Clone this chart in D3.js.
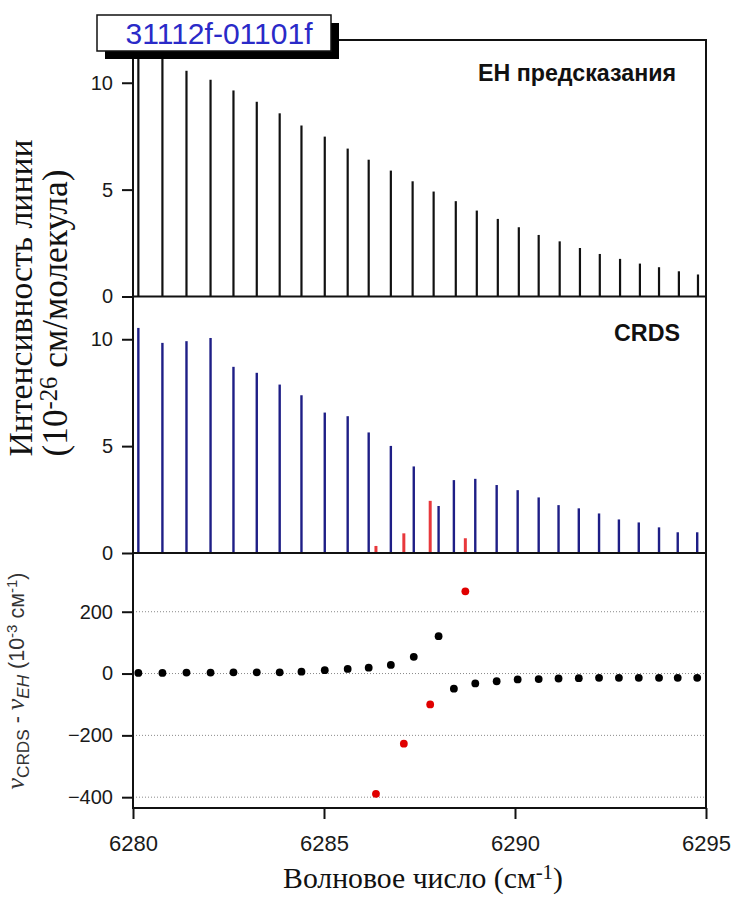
<!DOCTYPE html>
<html><head><meta charset="utf-8">
<script src="https://cdn.jsdelivr.net/npm/d3@7"></script>
<style>body{margin:0;background:#fff}</style>
</head><body><div id="chart"></div>
<script>
// ---------- data ----------
const xTicks = [6280, 6285, 6290, 6295];
const intensityTicks = [0, 5, 10];
const deltaTicks = [-400, -200, 0, 200];

const ehWavenumber = [6280.14, 6280.77, 6281.40, 6282.03, 6282.63, 6283.24, 6283.84, 6284.41, 6285.02, 6285.62,
  6286.17, 6286.75, 6287.32, 6287.87, 6288.45, 6289.00, 6289.55, 6290.10, 6290.62, 6291.17,
  6291.70, 6292.22, 6292.75, 6293.27, 6293.77, 6294.29, 6294.79];
const ehIntensity = [11.9, 11.4, 10.56, 10.14, 9.64, 9.11, 8.57, 8.00, 7.48, 6.92,
  6.40, 5.89, 5.39, 4.91, 4.46, 4.02, 3.63, 3.24, 2.88, 2.58,
  2.27, 1.99, 1.76, 1.54, 1.37, 1.18, 1.03];

const crdsWavenumber = [6280.14, 6280.77, 6281.40, 6282.03, 6282.63, 6283.24, 6283.84, 6284.41, 6285.02, 6285.62,
  6286.17, 6286.75, 6287.35, 6288.00, 6288.40, 6288.96, 6289.52, 6290.07, 6290.62, 6291.14,
  6291.67, 6292.20, 6292.72, 6293.24, 6293.77, 6294.26, 6294.77];
const crdsIntensity = [10.53, 9.83, 9.91, 10.06, 8.71, 8.43, 7.88, 7.38, 6.57, 6.40,
  5.64, 5.01, 4.05, 2.20, 3.41, 3.47, 3.18, 2.94, 2.60, 2.24,
  2.09, 1.85, 1.57, 1.43, 1.20, 0.97, 0.97];
const crdsDelta = [2, 2, 3, 3, 4, 4, 4, 6, 11, 15,
  19, 28, 54, 121, -49, -32, -25, -19, -18, -16,
  -15, -14, -14, -14, -14, -14, -14];

const perturbWavenumber = [6286.36, 6287.09, 6287.78, 6288.70];
const perturbIntensity = [0.33, 0.92, 2.44, 0.69];
const perturbDelta = [-389, -227, -100, 266];

const bandLabel = "31112f-01101f";
const topLabel = "ЕН предсказания";
const midLabel = "CRDS";

// ---------- layout ----------
const W = 734, H = 900;
const L = 133, R = 706;
const P1 = [40, 296.5], P2 = [296.5, 553], P3 = [553, 808];

const svg = d3.select("#chart").append("svg").attr("width", W).attr("height", H)
  .style("font-family", "Arial, 'Liberation Sans', sans-serif");
svg.append("rect").attr("width", W).attr("height", H).attr("fill", "#fff");

const x = d3.scaleLinear().domain([6280, 6295]).range([L, R]);
const y1 = d3.scaleLinear().domain([0, 12]).range([P1[1], P1[0]]);
const y2 = d3.scaleLinear().domain([0, 12]).range([P2[1], P2[0]]);
const y3 = d3.scaleLinear().domain([-435, 390]).range([P3[1], P3[0]]);

// grid lines (bottom panel)
svg.append("g").selectAll("line").data(deltaTicks).join("line")
  .attr("x1", L).attr("x2", R).attr("y1", d => y3(d)).attr("y2", d => y3(d))
  .attr("stroke", "#8a8a8a").attr("stroke-width", 1).attr("stroke-dasharray", "1,2");

// top panel lines
svg.append("g").selectAll("line").data(ehWavenumber).join("line")
  .attr("x1", d => x(d)).attr("x2", d => x(d))
  .attr("y1", y1(0)).attr("y2", (d, i) => y1(ehIntensity[i]))
  .attr("stroke", "#111").attr("stroke-width", 2.2);

// middle panel lines
svg.append("g").selectAll("line").data(crdsWavenumber).join("line")
  .attr("x1", d => x(d)).attr("x2", d => x(d))
  .attr("y1", y2(0)).attr("y2", (d, i) => y2(crdsIntensity[i]))
  .attr("stroke", "#1e1e86").attr("stroke-width", 2.4);
svg.append("g").selectAll("line").data(perturbWavenumber).join("line")
  .attr("x1", d => x(d)).attr("x2", d => x(d))
  .attr("y1", y2(0)).attr("y2", (d, i) => y2(perturbIntensity[i]))
  .attr("stroke", "#e8383c").attr("stroke-width", 3);

// bottom panel dots
svg.append("g").selectAll("circle").data(crdsWavenumber).join("circle")
  .attr("cx", d => x(d)).attr("cy", (d, i) => y3(crdsDelta[i])).attr("r", 3.9).attr("fill", "#000");
svg.append("g").selectAll("circle").data(perturbWavenumber).join("circle")
  .attr("cx", d => x(d)).attr("cy", (d, i) => y3(perturbDelta[i])).attr("r", 3.9).attr("fill", "#e00000");

// frame
const frame = svg.append("g").attr("stroke", "#111").attr("stroke-width", 2).attr("fill", "none");
frame.append("rect").attr("x", L).attr("y", P1[0]).attr("width", R - L).attr("height", P3[1] - P1[0]);
frame.append("line").attr("x1", L).attr("x2", R).attr("y1", P1[1]).attr("y2", P1[1]);
frame.append("line").attr("x1", L).attr("x2", R).attr("y1", P2[1]).attr("y2", P2[1]);

// axes
function styleAxis(g, fs) {
  g.select(".domain").remove();
  g.selectAll(".tick line").attr("stroke", "#111").attr("stroke-width", 2);
  g.selectAll(".tick text").attr("fill", "#1a1a1a").style("font-size", fs + "px").style("font-family", "Arial, 'Liberation Sans', sans-serif");
}
svg.append("g").attr("transform", `translate(${L},0)`)
  .call(d3.axisLeft(y1).tickValues(intensityTicks).tickSize(11).tickPadding(9).tickFormat(d3.format("d")))
  .call(g => styleAxis(g, 20));
svg.append("g").attr("transform", `translate(${L},0)`)
  .call(d3.axisLeft(y2).tickValues(intensityTicks).tickSize(11).tickPadding(9).tickFormat(d3.format("d")))
  .call(g => styleAxis(g, 20));
svg.append("g").attr("transform", `translate(${L},0)`)
  .call(d3.axisLeft(y3).tickValues(deltaTicks).tickSize(11).tickPadding(9).tickFormat(d3.format("d")))
  .call(g => styleAxis(g, 20));
svg.append("g").attr("transform", `translate(0,${P3[1]})`)
  .call(d3.axisBottom(x).tickValues(xTicks).tickSize(11).tickPadding(16).tickFormat(d3.format("d")))
  .call(g => styleAxis(g, 22));

// fit helper
function fit(t, target) {
  const w = t.node().getBBox().width;
  const fs = parseFloat(t.attr("font-size"));
  t.attr("font-size", fs * target / w);
}

// panel labels
svg.append("text").attr("x", 676).attr("y", 81).attr("text-anchor", "end")
  .attr("font-weight", "bold").attr("font-size", 22).attr("fill", "#111").text(topLabel)
  .call(t => fit(t, 198));
svg.append("text").attr("x", 680).attr("y", 341).attr("text-anchor", "end")
  .attr("font-weight", "bold").attr("font-size", 22).attr("fill", "#111").text(midLabel)
  .call(t => fit(t, 66));

// band label box
svg.append("rect").attr("x", 105).attr("y", 23).attr("width", 234).attr("height", 36).attr("fill", "#000");
svg.append("rect").attr("x", 97).attr("y", 15).attr("width", 234).attr("height", 36)
  .attr("fill", "#fff").attr("stroke", "#111").attr("stroke-width", 1.5);
svg.append("text").attr("x", 219).attr("y", 44).attr("text-anchor", "middle")
  .attr("font-size", 26).attr("fill", "#2a2ac8").text(bandLabel)
  .call(t => fit(t, 188));

// y titles
const serif = "'Liberation Serif', 'Times New Roman', serif";
const yt1 = svg.append("text").attr("transform", "translate(32,298) rotate(-90)")
  .attr("text-anchor", "middle").attr("font-family", serif).attr("font-size", 30).attr("fill", "#111")
  .text("Интенсивность линии");
fit(yt1, 317);
const yt2 = svg.append("text").attr("transform", "translate(67,313) rotate(-90)")
  .attr("text-anchor", "middle").attr("font-family", serif).attr("font-size", 26).attr("fill", "#111");
yt2.append("tspan").text("(10");
yt2.append("tspan").attr("dy", -10).attr("font-size", "0.7em").text("-26");
yt2.append("tspan").attr("dy", 10).text(" см/молекула)");
fit(yt2, 287);

const yt3 = svg.append("text").attr("transform", "translate(24,681) rotate(-90)")
  .attr("text-anchor", "middle").attr("font-size", 19).attr("fill", "#333");
yt3.append("tspan").attr("font-style", "italic").attr("font-family", serif).attr("font-size", "1.2em").text("ν");
yt3.append("tspan").attr("dy", 5).attr("font-size", "0.8em").text("CRDS");
yt3.append("tspan").attr("dy", -5).text(" - ");
yt3.append("tspan").attr("font-style", "italic").attr("font-family", serif).attr("font-size", "1.2em").text("ν");
yt3.append("tspan").attr("dy", 5).attr("font-size", "0.8em").attr("font-style", "italic").text("EH");
yt3.append("tspan").attr("dy", -5).text(" (10");
yt3.append("tspan").attr("dy", -7).attr("font-size", "0.7em").text("-3");
yt3.append("tspan").attr("dy", 7).text(" см");
yt3.append("tspan").attr("dy", -7).attr("font-size", "0.7em").text("-1");
yt3.append("tspan").attr("dy", 7).text(")");
fit(yt3, 217);

// x title
const xt = svg.append("text").attr("x", 423).attr("y", 888).attr("text-anchor", "middle")
  .attr("font-family", serif).attr("font-size", 26).attr("fill", "#111");
xt.append("tspan").text("Волновое число (см");
xt.append("tspan").attr("dy", -9).attr("font-size", "0.7em").text("-1");
xt.append("tspan").attr("dy", 9).text(")");
fit(xt, 280);
</script>
</body></html>
